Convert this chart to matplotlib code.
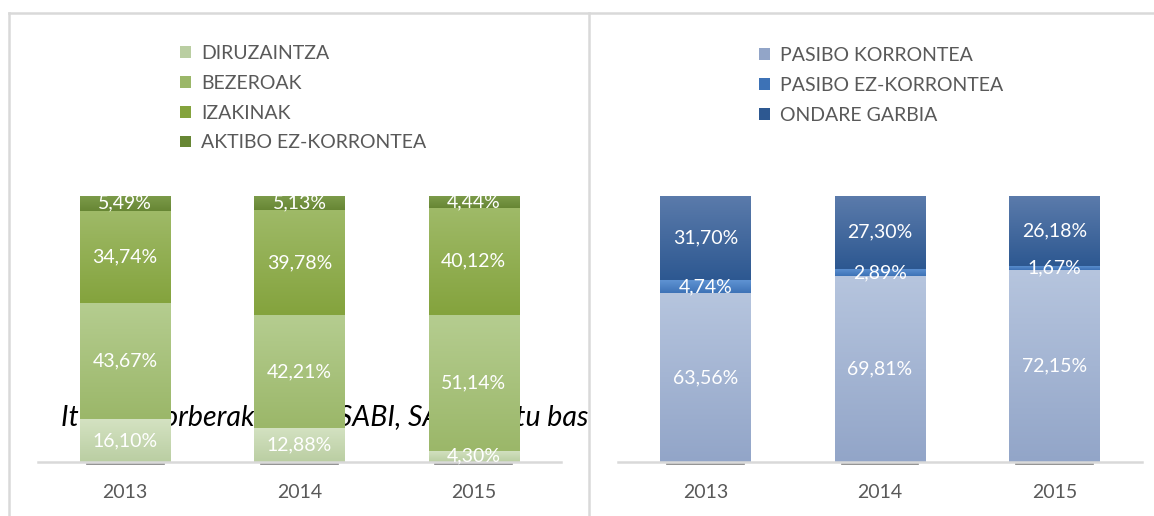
import numpy as np
import matplotlib
matplotlib.use("Agg")
import matplotlib.pyplot as plt
from matplotlib.colors import LinearSegmentedColormap
from matplotlib.lines import Line2D
from matplotlib.patches import Patch
from matplotlib.transforms import Bbox, TransformedBbox

plt.rcParams["font.family"] = ["Lato", "DejaVu Sans"]

# data
years = ["2013", "2014", "2015"]

assets = ["DIRUZAINTZA", "BEZEROAK", "IZAKINAK", "AKTIBO EZ-KORRONTEA"]
diruzaintza = [16.10, 12.88, 4.30]
bezeroak = [43.67, 42.21, 51.14]
izakinak = [34.74, 39.78, 40.12]
aktibo_ez_korrontea = [5.49, 5.13, 4.44]

liabilities = ["PASIBO KORRONTEA", "PASIBO EZ-KORRONTEA", "ONDARE GARBIA"]
pasibo_korrontea = [63.56, 69.81, 72.15]
pasibo_ez_korrontea = [4.74, 2.89, 1.67]
ondare_garbia = [31.70, 27.30, 26.18]

source_note = "Iturria: norberak egina, SABI, SAren datu baseetan oinarrituta"

# (top, bottom) gradient colours per series
GREENS = [("#d4e2c2", "#bacea2"), ("#b5cd90", "#9bb769"),
          ("#9fba68", "#84a33d"), ("#7c9b4a", "#678634")]
BLUES = [("#b6c5de", "#92a5c8"), ("#5f93d3", "#3d72b6"), ("#5b7bab", "#2d5891")]

W, H = 1154, 516
GREY_TXT = "#595959"
FS = 14


def fpos(x0, x1, ybase, ytop):
    return [x0 / W, (H - ybase) / H, (x1 - x0) / W, (ybase - ytop) / H]


def pct(v):
    return f"{v:.2f}".replace(".", ",") + "%"


def stacked(ax, series, colors):
    x = np.arange(len(years))
    bottom = np.zeros(len(years))
    grad = np.linspace(0, 1, 256).reshape(-1, 1)
    for vals, (top, bot) in zip(series, colors):
        vals = np.array(vals)
        bars = ax.bar(x, vals, 0.52, bottom=bottom, color=top, lw=0, zorder=2)
        cmap = LinearSegmentedColormap.from_list("g", [bot, top])
        for b in bars:
            x0, y0, w, h = b.get_x(), b.get_y(), b.get_width(), b.get_height()
            im = ax.imshow(grad, cmap=cmap, origin="lower", aspect="auto",
                           extent=(x0, x0 + w, y0, y0 + h), zorder=2.1)
            im.set_clip_path(b)
        for xi, v, b0 in zip(x, vals, bottom):
            ax.text(xi, b0 + v / 2, pct(v), ha="center", va="center",
                    color="white", fontsize=FS, zorder=3)
        bottom += vals
    # little shadow under each bar
    for xi in x:
        ax.plot([xi - 0.22, xi + 0.22], [-0.9, -0.9], color="#808080", lw=1.2,
                clip_on=False, zorder=1)
    ax.set_xlim(-0.5, len(years) - 0.5)
    ax.set_ylim(0, 100)
    ax.set_xticks(x)
    ax.set_xticklabels(years, color=GREY_TXT, fontsize=FS)
    ax.tick_params(axis="x", length=0, pad=16)
    ax.set_yticks([])
    for s in ("top", "right", "left"):
        ax.spines[s].set_visible(False)
    ax.spines["bottom"].set_color("#d9d9d9")
    ax.spines["bottom"].set_linewidth(1.8)
    ax.patch.set_alpha(0)


fig = plt.figure(figsize=(W / 100, H / 100), dpi=100)

axL = fig.add_axes(fpos(38, 561, 462, 196))
axR = fig.add_axes(fpos(618, 1142, 462, 196))

stacked(axL, [diruzaintza, bezeroak, izakinak, aktibo_ez_korrontea], GREENS)
stacked(axR, [pasibo_korrontea, pasibo_ez_korrontea, ondare_garbia], BLUES)


def legend(labels, colors, x, y):
    handles = [Patch(facecolor=c[1], edgecolor="none") for c in colors]
    fig.legend(handles, labels, loc="upper left", bbox_to_anchor=(x / W, 1 - y / H),
               frameon=False, fontsize=FS, labelcolor=GREY_TXT, handlelength=0.55,
               handleheight=0.55, handletextpad=0.55, labelspacing=0.66,
               borderpad=0, borderaxespad=0)


legend(assets, GREENS, 180, 45)
legend(liabilities, BLUES, 759, 47)

# source note sitting behind the left bars, cut at the panel edge
note = axL.text(61 / W, 1 - 426 / H, source_note, transform=fig.transFigure,
                fontsize=20.5, style="italic", color="black", va="baseline",
                zorder=1)
note.set_clip_on(True)
note.set_clip_box(TransformedBbox(Bbox([[0, 0], [588 / W, 1]]), fig.transFigure))

# panel frames
frame = dict(color="#d9d9d9", lw=1.8, transform=fig.transFigure)
fig.add_artist(Line2D([8.5 / W, 1], [1 - 12.5 / H] * 2, **frame))
fig.add_artist(Line2D([8.5 / W] * 2, [0, 1 - 12.5 / H], **frame))
fig.add_artist(Line2D([588.5 / W] * 2, [0, 1 - 12.5 / H], **frame))

fig.savefig("out.png", dpi=100)
